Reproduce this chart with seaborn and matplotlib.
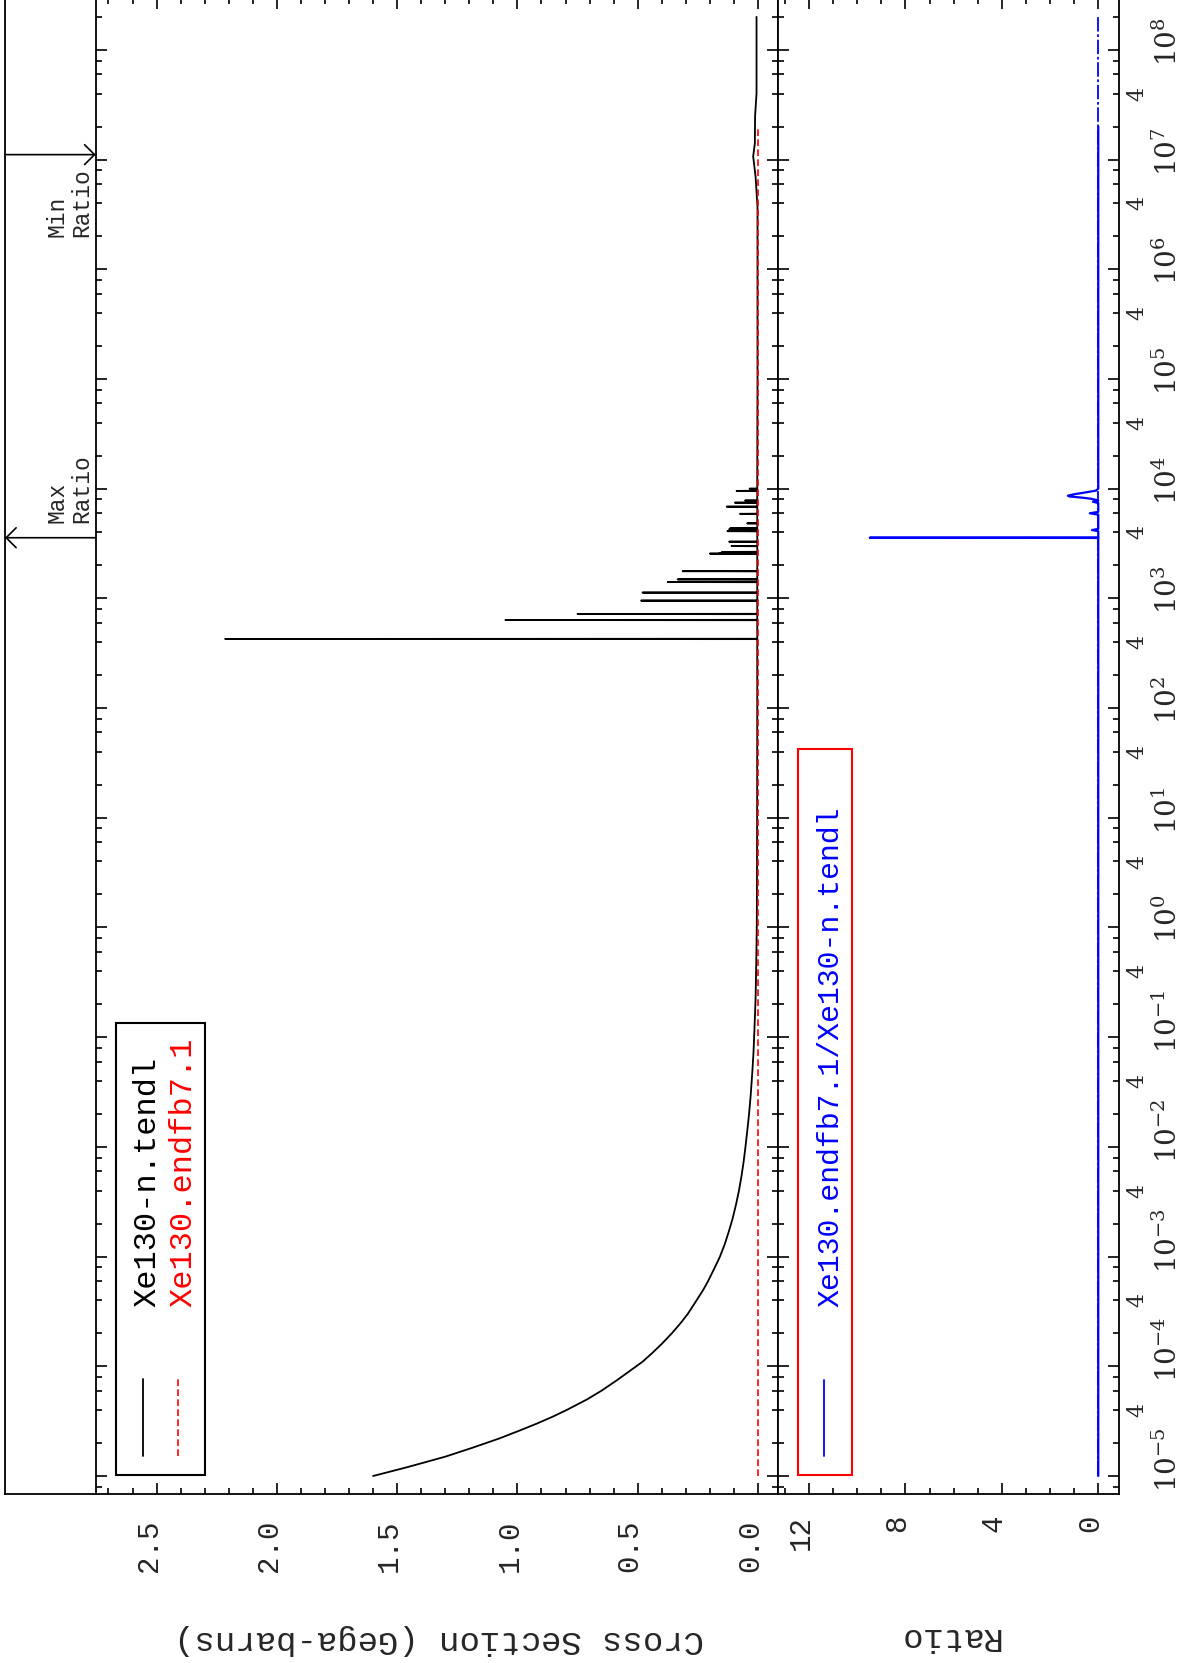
import numpy as np
import pandas as pd
import matplotlib
matplotlib.use("Agg")
import matplotlib.pyplot as plt
import seaborn as sns
from matplotlib.ticker import MultipleLocator, LogLocator, NullFormatter, NullLocator
from matplotlib.transforms import blended_transform_factory, ScaledTranslation
from matplotlib.patches import Rectangle
from matplotlib.lines import Line2D

# ---------------- data ----------------
# smooth part of Xe130-n.tendl cross section (Gega-barns) vs energy (eV)
tendl_E = [1e-5, 1.2e-5, 1.5e-5, 1.8e-5, 2.2e-5, 2.6e-5, 3e-5, 3.5e-5, 4e-5, 4.5e-5,
           5e-5, 6e-5, 7.5e-5, 9e-5, 1.1e-4, 1.3e-4, 1.6e-4, 2e-4, 2.5e-4, 3e-4,
           4e-4, 5e-4, 6e-4, 8e-4, 1e-3, 1.3e-3, 1.7e-3, 2.2e-3, 3e-3, 4e-3,
           5.5e-3, 7.5e-3, 1e-2, 1.5e-2, 2e-2, 3e-2, 5e-2, 7e-2, 1e-1, 2.2e-1,
           5e-1, 1e0, 3e0, 1e1, 1e2, 3e2,
           1.2e4, 1e5, 1e6, 3.7e6, 7e6, 1.07e7, 1.4e7, 2.5e7, 4e7, 1e8, 2e8]
tendl_xs = [1.60, 1.46, 1.30, 1.19, 1.075, 0.99, 0.92, 0.85, 0.795, 0.75,
            0.71, 0.65, 0.585, 0.535, 0.48, 0.443, 0.40, 0.358, 0.32, 0.292,
            0.255, 0.227, 0.207, 0.179, 0.158, 0.138, 0.121, 0.106, 0.091, 0.079,
            0.068, 0.059, 0.052, 0.043, 0.037, 0.030, 0.023, 0.019, 0.016, 0.010,
            0.007, 0.005, 0.004, 0.0035, 0.003, 0.003,
            0.003, 0.002, 0.002, 0.002, 0.010, 0.020, 0.013, 0.012, 0.006, 0.006, 0.006]
# resolved resonances of Xe130-n.tendl
res_E = [427, 635, 721, 955, 1130, 1410, 1490, 1770, 2560, 2600, 2650, 3000, 3290,
         4100, 4270, 4350, 4830, 5900, 6860, 7460, 7800, 9550, 10000]
res_peak = [2.215, 1.05, 0.75, 0.486, 0.48, 0.375, 0.334, 0.313, 0.20, 0.16, 0.15, 0.11, 0.12,
            0.127, 0.12, 0.116, 0.045, 0.075, 0.13, 0.096, 0.054, 0.089, 0.035]
res_base = 0.003

# Xe130.endfb7.1 cross section (Gega-barns)
endf_E = [1e-5, 1e-3, 1e-1, 1e1, 1e3, 1e5, 1e7, 2e7]
endf_xs = [0.0, 0.0, 0.0, 0.0, 0.0, 0.0, 0.0, 0.0]

# ratio Xe130.endfb7.1 / Xe130-n.tendl
ratio_E = [1e-5, 1e-2, 1e1, 1e3, 3.555e3, 3.573e3, 3.59e3, 4.1e3, 4.2e3, 4.3e3,
           5.8e3, 5.97e3, 6.15e3, 7.4e3, 7.6e3, 7.8e3, 8.1e3, 8.3e3, 8.5e3, 8.63e3, 8.9e3,
           9.27e3, 9.6e3, 1e4, 1e5, 1e6, 1e7, 2e7]
ratio_val = [0.0, 0.0, 0.0, 0.0, 0.0, 9.48, 0.0, 0.0, 0.26, 0.0,
             0.0, 0.35, 0.0, 0.0, 0.22, 0.0, 0.3, 0.7, 1.2, 1.26, 1.0,
             0.5, 0.1, 0.0, 0.0, 0.0, 0.0, 0.0]
ratio_ref_E = [1e-5, 2e8]
ratio_ref = [0.0, 0.0]

max_ratio_E = 3.573e3
min_ratio_E = 1.11e7

cs_ticks = [0.0, 0.5, 1.0, 1.5, 2.0, 2.5]
cs_labels = ["0.0", "0.5", "1.0", "1.5", "2.0", "2.5"]
ratio_ticks = [0, 4, 8, 12]
ratio_labels = ["0", "4", "8", "12"]
energy_exps = list(range(-5, 9))
minor4_exps = list(range(-5, 8))

# ---------------- style ----------------
sns.set_theme(style="ticks")
plt.rcParams['font.family'] = ['Liberation Mono', 'DejaVu Sans']
plt.rcParams['mathtext.fontset'] = 'dejavuserif'
plt.rcParams['axes.linewidth'] = 1.3
plt.rcParams['axes.edgecolor'] = 'black'
plt.rcParams['axes.facecolor'] = 'white'

W, H, DPI = 1188, 1663, 100
fig = plt.figure(figsize=(W / DPI, H / DPI), dpi=DPI, facecolor='white')

Y_TOP, Y_BOT = -1.5, 1494.3
DEC = 109.7  # px per decade
E_lo = 10 ** (-5 - (Y_BOT - 1476) / DEC)
E_hi = 10 ** (np.log10(E_lo) + (Y_BOT - Y_TOP) / DEC)

def px_axes(x0, x1):
    return fig.add_axes([x0 / W, 1 - Y_BOT / H, (x1 - x0) / W, (Y_BOT - Y_TOP) / H])

XS0, XS1 = 5, 95.7
XC0, XC1 = 95.7, 777.7
XR0, XR1 = 777.7, 1119
ax_s = px_axes(XS0, XS1)
ax_x = px_axes(XC0, XC1)
ax_r = px_axes(XR0, XR1)

def off(dx, dy):
    return ScaledTranslation(dx / DPI, -dy / DPI, fig.dpi_scale_trans)

def fx(px, x0, x1):
    return (px - x0) / (x1 - x0)

def fy(py):
    return (Y_BOT - py) / (Y_BOT - Y_TOP)

# ---------------- build series ----------------
E_all = list(tendl_E)
s_all = list(tendl_xs)
for e, p in zip(res_E, res_peak):
    E_all += [e / 1.004, e, e * 1.004]
    s_all += [res_base, p, res_base]
df_tendl = pd.DataFrame({"E": E_all, "xs": s_all}).sort_values("E")
df_endf = pd.DataFrame({"E": endf_E, "xs": endf_xs})
df_ratio = pd.DataFrame({"E": ratio_E, "r": ratio_val})
df_ref = pd.DataFrame({"E": ratio_ref_E, "r": ratio_ref})

for ax in (ax_s, ax_x, ax_r):
    ax.set_yscale('log')

sns.lineplot(data=df_tendl, x="xs", y="E", orient="y", sort=True, estimator=None,
             color="black", lw=1.3, ax=ax_x, zorder=3)
sns.lineplot(data=df_endf, x="xs", y="E", orient="y", sort=True, estimator=None,
             color="red", lw=1.2, linestyle=(0, (4, 2)), ax=ax_x, zorder=4)
sns.lineplot(data=df_ref, x="r", y="E", orient="y", sort=True, estimator=None,
             color="blue", lw=1.3, linestyle=(0, (8, 1.5, 1.5, 1.5)), ax=ax_r, zorder=3)
sns.lineplot(data=df_ratio, x="r", y="E", orient="y", sort=True, estimator=None,
             color="blue", lw=1.6, ax=ax_r, zorder=4)

# ---------------- axes setup ----------------
ax_x.set_xlim(2.753, -0.082)
ax_r.set_xlim(13.3, -0.86)
ax_s.set_xlim(0, 1)
for ax in (ax_s, ax_x, ax_r):
    ax.set_ylim(E_lo, E_hi)
    ax.set_xlabel("")
    ax.set_ylabel("")

ax_x.xaxis.set_major_locator(MultipleLocator(0.5))
ax_x.xaxis.set_minor_locator(MultipleLocator(0.1))
ax_r.xaxis.set_major_locator(MultipleLocator(4))
ax_r.xaxis.set_minor_locator(MultipleLocator(1))
for ax in (ax_x, ax_r):
    ax.yaxis.set_major_locator(LogLocator(base=10, numticks=40))
    ax.yaxis.set_minor_locator(LogLocator(base=10, subs=(2, 4, 6, 8), numticks=40))
    ax.yaxis.set_major_formatter(NullFormatter())
    ax.yaxis.set_minor_formatter(NullFormatter())
    ax.tick_params(axis='both', which='both', direction='in', top=True, bottom=True,
                   left=True, right=True, labelbottom=False, labelleft=False,
                   labeltop=False, labelright=False, width=1.2, color='black')
    ax.tick_params(which='major', length=8)
    ax.tick_params(which='minor', length=4.3)
    for sp in ax.spines.values():
        sp.set_linewidth(1.3)
        sp.set_color('black')

ax_s.set_xticks([])
ax_s.yaxis.set_major_locator(NullLocator())
ax_s.yaxis.set_minor_locator(NullLocator())
ax_s.spines['top'].set_visible(False)
ax_s.spines['right'].set_visible(False)
for k in ('left', 'bottom'):
    ax_s.spines[k].set_linewidth(1.3)
    ax_s.spines[k].set_color('black')

# ---------------- tick labels (rotated page) ----------------
tr_cs = blended_transform_factory(ax_x.transData, ax_x.transAxes) + off(0, 1520 - Y_BOT)
for v, s in zip(cs_ticks, cs_labels):
    ax_x.text(v, 0, s, transform=tr_cs, rotation=90, rotation_mode='anchor',
              ha='right', va='baseline', fontsize=21, clip_on=False)
tr_rt = blended_transform_factory(ax_r.transData, ax_r.transAxes) + off(0, 1515 - Y_BOT)
for v, s in zip(ratio_ticks, ratio_labels):
    ax_r.text(v, 0, s, transform=tr_rt, rotation=90, rotation_mode='anchor',
              ha='right', va='baseline', fontsize=21, clip_on=False)

tr_e = blended_transform_factory(ax_r.transAxes, ax_r.transData) + off(1177 - XR1, 16)
for n in energy_exps:
    ax_r.text(1, 10.0 ** n, r'$10^{%d}$' % n, transform=tr_e, rotation=90,
              rotation_mode='anchor', ha='left', va='baseline', fontsize=20, clip_on=False)
tr_4 = blended_transform_factory(ax_r.transAxes, ax_r.transData) + off(1143 - XR1, 0)
for n in minor4_exps:
    ax_r.text(1, 4 * 10.0 ** n, "4", transform=tr_4, rotation=90, rotation_mode='anchor',
              ha='center', va='baseline', fontsize=16, family='DejaVu Serif', clip_on=False)

# axis titles (upside down)
fig.text(439 / W, 1 - 1640 / H, "Cross Section (Gega-barns)", rotation=180,
         ha='center', va='center', fontsize=24.5)
fig.text(948.3 / W, 1 - 1637 / H, "Ratio", rotation=180, ha='center', va='center',
         fontsize=24.5)

# ---------------- legends ----------------
# cross section legend
ax_x.add_patch(Rectangle((fx(116, XC0, XC1), fy(1475)),
                         fx(205, XC0, XC1) - fx(116, XC0, XC1), fy(1023) - fy(1475),
                         transform=ax_x.transAxes, facecolor='white', edgecolor='black',
                         lw=1.5, zorder=6, clip_on=False))
ax_x.add_line(Line2D([fx(142.7, XC0, XC1)] * 2, [fy(1456), fy(1379)], transform=ax_x.transAxes,
                     color='black', lw=1.3, zorder=7))
ax_x.add_line(Line2D([fx(178.3, XC0, XC1)] * 2, [fy(1456), fy(1379)], transform=ax_x.transAxes,
                     color='red', lw=1.2, linestyle=(0, (4, 2)), zorder=7))
ax_x.text(fx(155, XC0, XC1), fy(1306.7), "Xe130-n.tendl", transform=ax_x.transAxes,
          rotation=90, rotation_mode='anchor', ha='left', va='baseline', fontsize=23,
          color='black', zorder=8)
ax_x.text(fx(191.5, XC0, XC1), fy(1306.7), "Xe130.endfb7.1", transform=ax_x.transAxes,
          rotation=90, rotation_mode='anchor', ha='left', va='baseline', fontsize=23,
          color='red', zorder=8)

# ratio legend
ax_r.add_patch(Rectangle((fx(798.3, XR0, XR1), fy(1475)),
                         fx(851.7, XR0, XR1) - fx(798.3, XR0, XR1), fy(749) - fy(1475),
                         transform=ax_r.transAxes, facecolor='white', edgecolor='red',
                         lw=1.5, zorder=6, clip_on=False))
ax_r.add_line(Line2D([fx(824.3, XR0, XR1)] * 2, [fy(1456), fy(1380)], transform=ax_r.transAxes,
                     color='blue', lw=1.3, zorder=7))
ax_r.text(fx(838, XR0, XR1), fy(1306.7), "Xe130.endfb7.1/Xe130-n.tendl",
          transform=ax_r.transAxes, rotation=90, rotation_mode='anchor', ha='left',
          va='baseline', fontsize=21.5, color='blue', zorder=8)

# ---------------- Max / Min ratio markers ----------------
tr_s = blended_transform_factory(ax_s.transAxes, ax_s.transData)
arrow_kw = dict(arrowstyle='->, head_length=0.55, head_width=0.55', lw=1.2, color='black',
                shrinkA=0, shrinkB=0, mutation_scale=13)
ax_s.annotate('', xy=(0, max_ratio_E), xycoords=tr_s, xytext=(1, max_ratio_E),
              textcoords=tr_s, arrowprops=arrow_kw)
ax_s.annotate('', xy=(1, min_ratio_E), xycoords=tr_s, xytext=(0, min_ratio_E),
              textcoords=tr_s, arrowprops=arrow_kw)
ax_s.annotate("Max\nRatio", xy=(fx(93, XS0, XS1), max_ratio_E), xycoords=tr_s,
              xytext=(0, 10.3), textcoords='offset points', rotation=90, ha='right',
              va='bottom', multialignment='left', fontsize=16.5, linespacing=1.1)
ax_s.annotate("Min\nRatio", xy=(fx(93, XS0, XS1), min_ratio_E), xycoords=tr_s,
              xytext=(0, -9.9), textcoords='offset points', rotation=90, ha='right',
              va='top', multialignment='left', fontsize=16.5, linespacing=1.1)

fig.savefig("out.png", dpi=DPI, facecolor='white')
